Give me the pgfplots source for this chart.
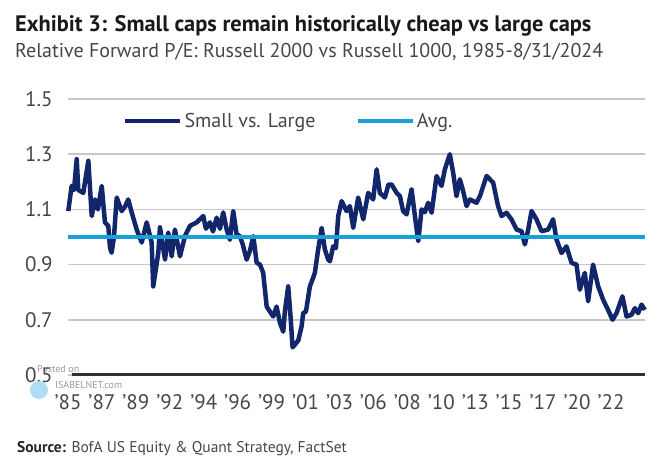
\documentclass[border=0pt]{standalone}
\usepackage{fontspec}
\setmainfont{PT Sans}
\usepackage{pgfplots}
\pgfplotsset{compat=1.18}
\usepackage{pgfplotstable}
\definecolor{navy}{RGB}{18,38,108}
\definecolor{avgblue}{RGB}{28,160,220}
\definecolor{gridgray}{RGB}{200,200,200}
\definecolor{labgray}{RGB}{70,70,70}
\definecolor{axisdark}{RGB}{50,50,50}
\pgfplotstableread{
x y
1985.02 1.094
1985.25 1.185
1985.41 1.170
1985.60 1.282
1985.71 1.170
1986.05 1.160
1986.40 1.276
1986.63 1.076
1986.86 1.136
1987.06 1.100
1987.32 1.185
1987.54 1.053
1987.77 1.040
1987.89 0.960
1988.00 0.943
1988.16 1.000
1988.35 1.143
1988.69 1.094
1988.92 1.110
1989.14 1.136
1989.38 1.089
1989.72 1.027
1990.07 0.980
1990.41 1.053
1990.75 0.980
1990.86 0.821
1991.21 0.943
1991.32 1.035
1991.67 0.918
1991.89 1.016
1992.13 0.930
1992.35 1.027
1992.70 0.930
1993.04 1.003
1993.38 1.040
1993.85 1.053
1994.30 1.076
1994.48 1.030
1994.76 1.053
1994.97 1.020
1995.22 1.070
1995.45 1.030
1995.67 1.089
1995.91 1.027
1996.13 0.990
1996.36 1.094
1996.59 1.010
1996.82 1.003
1997.03 0.970
1997.28 0.918
1997.51 0.950
1997.74 1.003
1997.97 0.907
1998.20 0.900
1998.42 0.870
1998.66 0.748
1998.88 0.730
1999.11 0.712
1999.34 0.748
1999.57 0.689
1999.80 0.657
1999.91 0.730
2000.14 0.821
2000.29 0.720
2000.44 0.600
2000.60 0.610
2000.83 0.625
2001.06 0.676
2001.17 0.724
2001.36 0.730
2001.63 0.821
2001.84 0.850
2001.97 0.870
2002.20 0.955
2002.44 1.033
2002.66 0.955
2002.89 0.918
2003.01 0.912
2003.23 0.966
2003.42 0.960
2003.58 1.076
2003.81 1.130
2004.15 1.094
2004.38 1.112
2004.61 1.033
2004.95 1.143
2005.30 1.064
2005.64 1.160
2005.98 1.136
2006.22 1.245
2006.44 1.160
2006.79 1.143
2007.03 1.190
2007.25 1.190
2007.59 1.160
2007.82 1.148
2008.04 1.094
2008.28 1.082
2008.62 1.173
2008.85 1.076
2009.08 0.985
2009.31 1.100
2009.54 1.090
2009.76 1.124
2010.00 1.088
2010.34 1.221
2010.68 1.185
2010.91 1.245
2011.25 1.300
2011.48 1.233
2011.71 1.148
2011.94 1.209
2012.15 1.170
2012.40 1.112
2012.63 1.136
2013.09 1.124
2013.32 1.148
2013.78 1.221
2014.23 1.197
2014.57 1.112
2014.81 1.076
2015.15 1.088
2015.49 1.064
2015.84 1.027
2016.18 1.021
2016.41 0.973
2016.64 1.027
2016.87 1.094
2017.21 1.064
2017.56 1.021
2018.01 1.027
2018.35 1.064
2018.59 0.990
2018.93 0.942
2019.27 0.966
2019.62 0.906
2019.96 0.900
2020.19 0.809
2020.53 0.870
2020.76 0.767
2021.10 0.900
2021.45 0.821
2021.79 0.773
2022.13 0.736
2022.44 0.700
2022.71 0.724
2023.12 0.785
2023.40 0.712
2023.74 0.718
2023.97 0.742
2024.20 0.724
2024.43 0.755
2024.66 0.736
}\relpe
\begin{document}
\begin{tikzpicture}[x=1pt,y=1pt]
\path[use as bounding box] (0,0) rectangle (670,473);
\node[anchor=base west, inner sep=0pt, text=black!90] at (15,441) {\fontsize{22.4}{27}\selectfont\bfseries Exhibit 3: Small caps remain historically cheap vs large caps};
\node[anchor=base west, inner sep=0pt, text=labgray] at (15,415) {\fontsize{20}{24}\selectfont Relative Forward P/E: Russell 2000 vs Russell 1000, 1985-8/31/2024};
\node[anchor=base west, inner sep=0pt, text=labgray] at (17,20) {\fontsize{15.5}{19}\selectfont{\bfseries\color{black!85}Source:} BofA US Equity \& Quant Strategy, FactSet};
\begin{axis}[
  name=ax,
  at={(68pt,98pt)}, anchor=south west,
  scale only axis, width=577pt, height=276pt,
  xmin=1985, xmax=2024.67, ymin=0.5, ymax=1.5,
  clip=false,
  axis line style={draw=none},
  ytick={0.5,0.7,0.9,1.1,1.3,1.5},
  yticklabels={0.5,0.7,0.9,1.1,1.3,1.5},
  xtick={1985,1987.333,1989.667,1992,1994.333,1996.667,1999,2001.333,2003.667,2006,2008.333,2010.667,2013,2015.333,2017.667,2020,2022.333},
  xticklabels={'85,'87,'89,'92,'94,'96,'99,'01,'03,'06,'08,'10,'13,'15,'17,'20,'22},
  major tick length=0pt,
  ymajorgrids, grid style={draw=gridgray, line width=1.5pt},
  ticklabel style={font=\fontsize{21}{24}\selectfont, text=labgray},
  yticklabel style={xshift=-12pt},
  xticklabel style={yshift=-16pt},
  legend columns=2,
  legend style={at={(0.09,0.92)}, anchor=west, draw=none, fill=none,
    font=\fontsize{20}{24}\selectfont, text=labgray,
    /tikz/every even column/.append style={column sep=38pt}},
  legend image code/.code={\draw[#1, line width=4.5pt] (0pt,0pt) -- (55pt,0pt);},
  legend cell align=left,
]
\addplot[axisdark, line width=3pt, forget plot] coordinates {(1985.25,0.5) (2024.67,0.5)};
\addplot[navy, line width=4.5pt, line join=round] table[x=x,y=y]{\relpe};
\addlegendentry{Small vs. Large}
\addplot[avgblue, line width=3.5pt] coordinates {(1985,1.0) (2024.67,1.0)};
\addlegendentry{Avg.}
\end{axis}
\node[anchor=base west, inner sep=0pt, text=black!40] at (37,100) {\fontsize{10}{12}\selectfont Posted on};
\fill[avgblue!35] (39,83) circle (9);
\node[anchor=base west, inner sep=0pt, text=black!40] at (55,84) {\fontsize{10}{12}\selectfont ISABELNET.com};
\end{tikzpicture}
\end{document}
